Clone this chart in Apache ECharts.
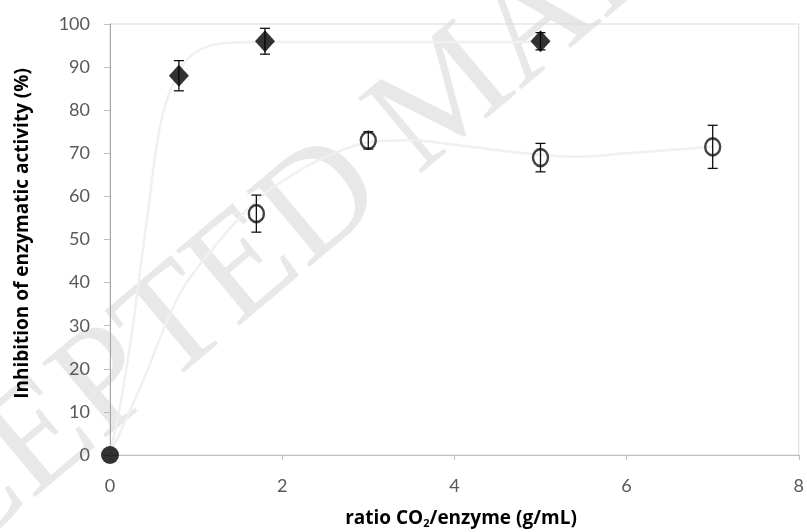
<!DOCTYPE html>
<html>
<head>
<meta charset="utf-8">
<script src="https://cdn.jsdelivr.net/npm/echarts@6/dist/echarts.min.js"></script>
<style>
  html, body { margin: 0; padding: 0; background: #fff; }
  #chart { width: 807px; height: 532px; }
</style>
</head>
<body>
<div id="chart"></div>
<script>
// Measured inhibition (%) vs CO2/enzyme ratio (g/mL)
const originPoint = [[0, 0]];

const ratioA = [0.8, 1.8, 5.0];
const inhibitionA = [88, 96, 96];
const errorA = [3.5, 3, 2];

const ratioB = [1.7, 3.0, 5.0, 7.0];
const inhibitionB = [56, 73, 69, 71.5];
const errorB = [4.3, 2, 3.3, 5];

// Fitted trend curves
const fitAx = [0, 0.15, 0.3, 0.45, 0.6, 0.8, 1.0, 1.3, 1.8, 5.0];
const fitAy = [0, 15, 35, 58, 78, 89, 93.5, 95.5, 95.8, 95.8];
const fitBx = [0, 0.4, 0.8, 1.2, 1.7, 2.2, 2.6, 3.0, 3.5, 4.0, 4.6, 5.4, 6.0, 7.0];
const fitBy = [0, 18, 37, 48, 59, 66, 70, 72.5, 73, 72, 70.5, 69.2, 70, 71.5];

const xTicks = [0, 2, 4, 6, 8];
const yTicks = [0, 10, 20, 30, 40, 50, 60, 70, 80, 90, 100];

const zip = (xs, ys) => xs.map((x, i) => [x, ys[i]]);
const zip3 = (xs, ys, es) => xs.map((x, i) => [x, ys[i], es[i]]);

function errorBar(params, api) {
  const x = api.value(0), y = api.value(1), e = api.value(2);
  const top = api.coord([x, y + e]);
  const bot = api.coord([x, y - e]);
  const hw = 5;
  const st = { stroke: '#111', lineWidth: 1.3 };
  return {
    type: 'group',
    children: [
      { type: 'line', shape: { x1: top[0], y1: top[1], x2: bot[0], y2: bot[1] }, style: st },
      { type: 'line', shape: { x1: top[0] - hw, y1: top[1], x2: top[0] + hw, y2: top[1] }, style: st },
      { type: 'line', shape: { x1: bot[0] - hw, y1: bot[1], x2: bot[0] + hw, y2: bot[1] }, style: st }
    ]
  };
}

const labelFont = 'Lato, "Open Sans", sans-serif';
const titleFont = '"Open Sans", Lato, sans-serif';
const chart = echarts.init(document.getElementById('chart'), null, { renderer: 'canvas' });

chart.setOption({
  animation: false,
  backgroundColor: '#ffffff',
  graphic: [{
    type: 'text',
    z: -10,
    x: -230,
    y: 668,
    rotation: 40 * Math.PI / 180,
    silent: true,
    style: {
      text: 'ACCEPTED MANUSCRIPT',
      x: 0, y: 0,
      align: 'left',
      verticalAlign: 'middle',
      fontFamily: '"Liberation Serif", "DejaVu Serif", serif',
      fontSize: 150,
      fill: '#e8e8e8'
    }
  }, {
    type: 'text',
    x: 461,
    y: 519,
    style: {
      text: '{t|ratio CO}{s|2}{t|/enzyme (g/mL)}',
      align: 'center',
      verticalAlign: 'middle',
      rich: {
        t: { fontFamily: titleFont, fontWeight: 'bold', fontSize: 19, fill: '#000' },
        s: { fontFamily: titleFont, fontWeight: 'bold', fontSize: 11, fill: '#000', padding: [10, 0, 0, 0] }
      }
    }
  }],
  grid: {
    left: 110, right: 7, top: 24, bottom: 77,
    show: true,
    borderColor: '#d9d9d9',
    borderWidth: 1,
    backgroundColor: 'transparent'
  },
  xAxis: {
    type: 'value',
    min: xTicks[0], max: xTicks[xTicks.length - 1], interval: 2,
    axisLine: { show: true, lineStyle: { color: '#bfbfbf', width: 1 } },
    axisTick: { show: true, inside: false, length: 5, lineStyle: { color: '#bfbfbf' } },
    splitLine: { show: false },
    axisLabel: { color: '#595959', fontFamily: labelFont, fontSize: 18, margin: 22 }
  },
  yAxis: {
    type: 'value',
    min: yTicks[0], max: yTicks[yTicks.length - 1], interval: 10,
    name: 'Inhibition of enzymatic activity (%)',
    nameLocation: 'middle',
    nameGap: 78,
    nameTextStyle: { color: '#000', fontFamily: titleFont, fontWeight: 'bold', fontSize: 19, padding: [0, 0, 0, 12] },
    axisLine: { show: true, lineStyle: { color: '#a6a6a6', width: 1 } },
    axisTick: { show: true, inside: false, length: 6, lineStyle: { color: '#bfbfbf' } },
    splitLine: { show: false },
    axisLabel: { color: '#595959', fontFamily: labelFont, fontSize: 18, margin: 20 }
  },
  series: [
    {
      type: 'line', name: 'fitA', data: zip(fitAx, fitAy), smooth: 0.35,
      showSymbol: false, symbol: 'none', z: 1, silent: true,
      lineStyle: { color: '#f0f0f0', width: 2.5 }
    },
    {
      type: 'line', name: 'fitB', data: zip(fitBx, fitBy), smooth: 0.35,
      showSymbol: false, symbol: 'none', z: 1, silent: true,
      lineStyle: { color: '#f0f0f0', width: 2.5 }
    },
    {
      type: 'custom', name: 'errA', renderItem: errorBar, clip: false, z: 3,
      encode: { x: 0, y: 1 }, data: zip3(ratioA, inhibitionA, errorA)
    },
    {
      type: 'custom', name: 'errB', renderItem: errorBar, clip: false, z: 3,
      encode: { x: 0, y: 1 }, data: zip3(ratioB, inhibitionB, errorB)
    },
    {
      type: 'scatter', name: 'A', data: zip(ratioA, inhibitionA), z: 4,
      symbol: 'diamond', symbolSize: [20, 22],
      itemStyle: { color: '#000' }
    },
    {
      type: 'scatter', name: 'B', data: zip(ratioB, inhibitionB), z: 4,
      symbol: 'circle', symbolSize: [15, 17],
      itemStyle: { color: 'rgba(0,0,0,0)', borderColor: '#111', borderWidth: 2.5 }
    },
    {
      type: 'scatter', name: 'origin', data: originPoint, z: 5, clip: false,
      symbol: 'circle', symbolSize: 18,
      itemStyle: { color: '#000' }
    }
  ]
});
</script>
</body>
</html>
